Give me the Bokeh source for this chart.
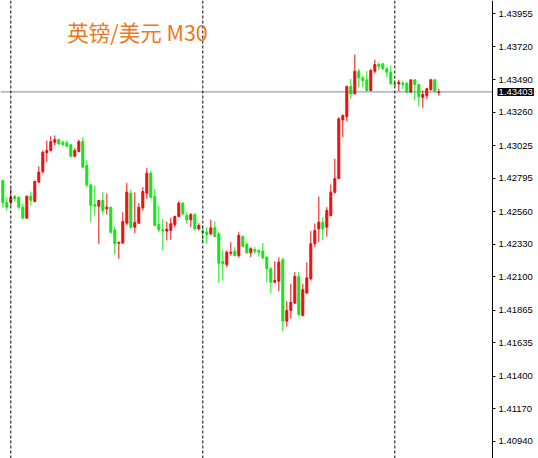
from bokeh.plotting import figure
from bokeh.models import Range1d, FixedTicker, PrintfTickFormatter, Span, Label, ColumnDataSource
from bokeh.embed import file_html
from bokeh.resources import INLINE

# ---- data (GBP/USD, M30 bars) ----
opens = [1.42779, 1.42624, 1.42626, 1.42666, 1.42661, 1.42591, 1.42513, 1.42668, 1.42631, 1.42767,
         1.42842, 1.42974, 1.42990, 1.43048, 1.43067, 1.43048, 1.43044, 1.43030, 1.42950, 1.42983,
         1.43053, 1.42884, 1.42748, 1.42608, 1.42598, 1.42638, 1.42579, 1.42591, 1.42431, 1.42337,
         1.42337, 1.42478, 1.42689, 1.42450, 1.42478, 1.42586, 1.42689, 1.42830, 1.42666, 1.42469,
         1.42431, 1.42422, 1.42427, 1.42469, 1.42525, 1.42619, 1.42532, 1.42502, 1.42539, 1.42438,
         1.42422, 1.42415, 1.42403, 1.42445, 1.42403, 1.42208, 1.42187, 1.42267, 1.42281, 1.42250,
         1.42384, 1.42328, 1.42269, 1.42291, 1.42286, 1.42281, 1.42238, 1.42157, 1.42062, 1.42069,
         1.42220, 1.41788, 1.41863, 1.41914, 1.42103, 1.41828, 1.41985, 1.42086, 1.42333, 1.42438,
         1.42485, 1.42450, 1.42532, 1.42696, 1.42791, 1.43206, 1.43230, 1.43441, 1.43389, 1.43549,
         1.43502, 1.43488, 1.43413, 1.43549, 1.43596, 1.43601, 1.43566, 1.43542, 1.43464, 1.43460,
         1.43464, 1.43464, 1.43401, 1.43488, 1.43455, 1.43365, 1.43377, 1.43418, 1.43488, 1.43398]
highs = [1.42779, 1.42661, 1.42724, 1.42678, 1.42666, 1.42615, 1.42673, 1.42701, 1.42779, 1.42879,
         1.42990, 1.43060, 1.43091, 1.43096, 1.43072, 1.43060, 1.43060, 1.43037, 1.43006, 1.43067,
         1.43084, 1.42920, 1.42748, 1.42743, 1.42638, 1.42696, 1.42687, 1.42591, 1.42455, 1.42344,
         1.42555, 1.42760, 1.42713, 1.42696, 1.42619, 1.42732, 1.42868, 1.42849, 1.42720, 1.42603,
         1.42509, 1.42490, 1.42516, 1.42532, 1.42633, 1.42626, 1.42555, 1.42548, 1.42548, 1.42478,
         1.42462, 1.42450, 1.42502, 1.42492, 1.42415, 1.42286, 1.42286, 1.42344, 1.42309, 1.42415,
         1.42391, 1.42344, 1.42309, 1.42309, 1.42293, 1.42337, 1.42245, 1.42168, 1.42210, 1.42238,
         1.42234, 1.41929, 1.42051, 1.42133, 1.42133, 1.42051, 1.42203, 1.42422, 1.42476, 1.42666,
         1.42520, 1.42591, 1.42751, 1.42932, 1.43225, 1.43244, 1.43448, 1.43495, 1.43666, 1.43566,
         1.43518, 1.43549, 1.43566, 1.43629, 1.43612, 1.43605, 1.43577, 1.43589, 1.43471, 1.43488,
         1.43483, 1.43471, 1.43488, 1.43495, 1.43460, 1.43413, 1.43432, 1.43495, 1.43495, 1.43425]
lows = [1.42589, 1.42567, 1.42603, 1.42631, 1.42579, 1.42513, 1.42513, 1.42603, 1.42626, 1.42767,
        1.42826, 1.42908, 1.42983, 1.43025, 1.43030, 1.43020, 1.43013, 1.42943, 1.42943, 1.42978,
        1.42872, 1.42732, 1.42485, 1.42532, 1.42333, 1.42537, 1.42539, 1.42403, 1.42257, 1.42227,
        1.42337, 1.42462, 1.42438, 1.42407, 1.42474, 1.42567, 1.42650, 1.42650, 1.42462, 1.42415,
        1.42286, 1.42356, 1.42361, 1.42450, 1.42520, 1.42532, 1.42474, 1.42450, 1.42427, 1.42427,
        1.42344, 1.42333, 1.42391, 1.42384, 1.42055, 1.42074, 1.42168, 1.42250, 1.42243, 1.42234,
        1.42309, 1.42262, 1.42238, 1.42262, 1.42243, 1.42227, 1.42062, 1.41985, 1.42055, 1.41999,
        1.41717, 1.41750, 1.41805, 1.41914, 1.41821, 1.41821, 1.41985, 1.42074, 1.42309, 1.42344,
        1.42356, 1.42384, 1.42525, 1.42685, 1.42791, 1.43084, 1.43196, 1.43354, 1.43389, 1.43436,
        1.43436, 1.43408, 1.43408, 1.43535, 1.43558, 1.43558, 1.43506, 1.43455, 1.43441, 1.43408,
        1.43425, 1.43394, 1.43401, 1.43342, 1.43300, 1.43291, 1.43354, 1.43413, 1.43401, 1.43377]
closes = [1.42624, 1.42591, 1.42661, 1.42650, 1.42591, 1.42513, 1.42668, 1.42640, 1.42772, 1.42837,
          1.42978, 1.42990, 1.43053, 1.43067, 1.43037, 1.43032, 1.43020, 1.42950, 1.42990, 1.43053,
          1.42872, 1.42748, 1.42603, 1.42598, 1.42638, 1.42567, 1.42591, 1.42415, 1.42333, 1.42344,
          1.42490, 1.42696, 1.42450, 1.42483, 1.42591, 1.42701, 1.42830, 1.42661, 1.42462, 1.42431,
          1.42424, 1.42436, 1.42474, 1.42525, 1.42619, 1.42544, 1.42502, 1.42539, 1.42438, 1.42462,
          1.42412, 1.42398, 1.42445, 1.42384, 1.42196, 1.42192, 1.42274, 1.42274, 1.42250, 1.42391,
          1.42314, 1.42269, 1.42298, 1.42281, 1.42274, 1.42234, 1.42157, 1.42062, 1.42074, 1.42203,
          1.41788, 1.41863, 1.41921, 1.42103, 1.41835, 1.42009, 1.42093, 1.42333, 1.42427, 1.42485,
          1.42438, 1.42567, 1.42696, 1.42791, 1.43213, 1.43237, 1.43441, 1.43389, 1.43549, 1.43502,
          1.43483, 1.43413, 1.43554, 1.43596, 1.43582, 1.43566, 1.43542, 1.43460, 1.43455, 1.43471,
          1.43455, 1.43401, 1.43488, 1.43455, 1.43370, 1.43385, 1.43425, 1.43488, 1.43408, 1.43403]

price_ticks = [1.43955, 1.43720, 1.43490, 1.43260, 1.43025, 1.42795, 1.42560,
               1.42330, 1.42100, 1.41865, 1.41635, 1.41400, 1.41170, 1.40940]
day_breaks = [2, 50, 98]          # bar index where each new trading day starts
bid_price = 1.43403
title_text = "英镑/美元 M30"

UP = "#EE0F0F"
DOWN = "#14E614"

idx = list(range(len(opens)))
colors = [UP if c >= o else DOWN for o, c in zip(opens, closes)]
body_top = [max(o, c) for o, c in zip(opens, closes)]
body_bot = [min(o, c) for o, c in zip(opens, closes)]

src = ColumnDataSource(dict(x=idx, high=highs, low=lows, top=body_top, bottom=body_bot, color=colors))

# horizontal scale: one bar = 4 px; chart area ends at the price scale, 122.425 bars from the left
x_start = -0.575
axis_pos = 122.425
W, H = 538, 458

p = figure(width=W, height=H,
           x_range=Range1d(x_start, x_start + W / 4.0), y_range=Range1d(1.40820, 1.44047),
           output_backend="svg", toolbar_location=None,
           x_axis_location=None, y_axis_location="right",
           min_border_left=0, min_border_top=0, min_border_bottom=0, min_border_right=0,
           outline_line_color=None, background_fill_color="white", border_fill_color="white")
p.grid.visible = False

for d in day_breaks:
    p.add_layout(Span(location=d, dimension="height", line_color="black",
                      line_dash="3 2", line_width=1))

# bid line, up to the price scale
p.segment(x0=[x_start], y0=[bid_price], x1=[axis_pos], y1=[bid_price],
          line_color="#7A8B99", line_width=1)

p.segment(x0="x", y0="high", x1="x", y1="low", source=src, line_color="color", line_width=1)
p.vbar(x="x", top="top", bottom="bottom", width=0.5, source=src,
       fill_color="color", line_color="color", line_width=1)

ax = p.yaxis[0]
ax.fixed_location = axis_pos
ax.ticker = FixedTicker(ticks=price_ticks)
ax.formatter = PrintfTickFormatter(format="%.5f")
ax.major_tick_out = 3
ax.major_tick_in = 0
ax.minor_tick_out = 0
ax.minor_tick_in = 0
ax.axis_line_color = "black"
ax.major_tick_line_color = "black"
ax.major_label_standoff = 3
ax.major_label_text_font = "Liberation Sans"
ax.major_label_text_font_size = "9.5px"
ax.major_label_text_color = "black"

p.add_layout(Label(x=axis_pos, y=bid_price, x_offset=5, text="1.43403",
                   text_baseline="middle", text_align="left",
                   text_font="Liberation Sans", text_font_size="9.5px", text_color="white",
                   background_fill_color="black", padding=1))

p.add_layout(Label(x=16.1, y=1.43828, text=title_text, text_baseline="middle",
                   text_font="Noto Sans CJK SC", text_font_size="21.5px", text_color="#EE7722"))

open("out.html", "w").write(file_html(p, INLINE))
